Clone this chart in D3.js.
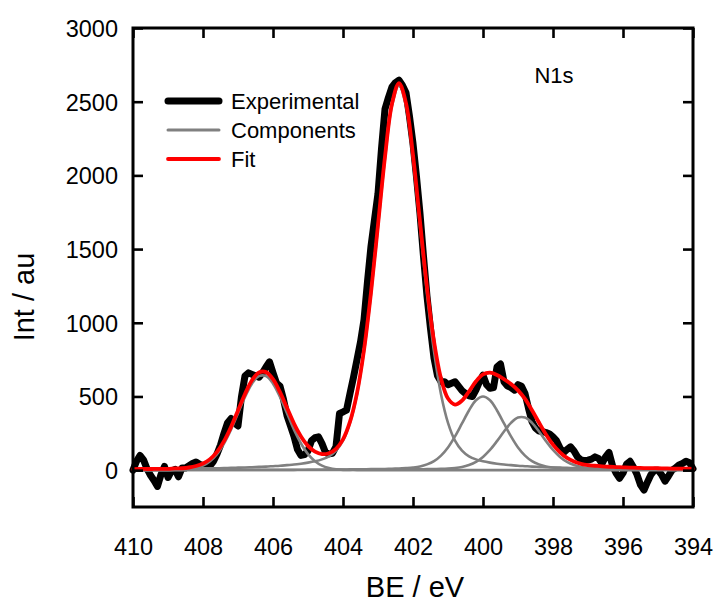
<!DOCTYPE html>
<html>
<head>
<meta charset="utf-8">
<script src="https://cdn.jsdelivr.net/npm/d3@7"></script>
<style>
  html, body { margin: 0; padding: 0; background: #fff; }
  svg { display: block; font-family: "Liberation Sans", Arial, sans-serif; }
</style>
</head>
<body>
<svg id="chart" width="715" height="603"></svg>
<script>
// N1s XPS spectrum: measured counts, fitted components and total fit.

// Measured spectrum, 0.1 eV steps from 410.0 down to 394.0 eV
const expStart = 410.0, expStep = 0.1;
const experimental = [
  0, 60, 100, 70, 10, -35, -70, -110, -30, 25,
  -50, -5, 5, -45, 15, 15, 30, 45, 55, 40,
  30, 22, 30, 60, 110, 170, 250, 320, 350, 320,
  300, 500, 640, 660, 650, 640, 630, 660, 700, 735,
  660, 590, 570, 480, 370, 300, 230, 140, 100, 105,
  130, 200, 220, 226, 180, 120, 110, 115, 160, 385,
  395, 407, 520, 630, 750, 870, 1020, 1280, 1520, 1700,
  1877, 2180, 2450, 2530, 2600, 2630, 2646, 2610, 2560, 2400,
  2216, 1990, 1740, 1450, 1180, 960, 760, 640, 600, 600,
  580, 590, 600, 570, 540, 520, 505, 500, 545, 600,
  645, 580, 555, 560, 700, 720, 600, 570, 560, 543,
  580, 570, 520, 420, 330, 285, 265, 262, 255, 245,
  225, 200, 150, 118, 140, 158, 130, 90, 70, 65,
  68, 75, 90, 80, 45, 90, 120, 30, -20, -55,
  -20, 40, 60, 20, -30, -100, -135, -80, -30, 0,
  0, -30, -75, -40, 0, 15, 35, 45, 60, 50,
  10
];

// Fitted peaks, 0.2 eV steps from 410.0 down to 394.0 eV
const fitStart = 410.0, fitStep = 0.2;
const peak406 = [
  0, 0, 0, 0, 0, 0, 1, 2, 6, 15,
  31, 61, 109, 181, 275, 386, 496, 587, 638, 638,
  587, 496, 386, 275, 181, 109, 61, 31, 15, 6,
  2, 1, 0, 0, 0, 0, 0, 0, 0, 0,
  0, 0, 0, 0, 0, 0, 0, 0, 0, 0,
  0, 0, 0, 0, 0, 0, 0, 0, 0, 0,
  0, 0, 0, 0, 0, 0, 0, 0, 0, 0,
  0, 0, 0, 0, 0, 0, 0, 0, 0, 0,
  0
];
const peak402 = [
  6, 7, 7, 7, 8, 8, 9, 9, 10, 11,
  12, 12, 13, 14, 16, 17, 18, 20, 22, 24,
  27, 30, 34, 38, 44, 51, 60, 73, 94, 133,
  201, 321, 515, 806, 1195, 1654, 2115, 2472, 2610, 2472,
  2115, 1654, 1195, 806, 515, 321, 201, 133, 94, 73,
  60, 51, 44, 38, 34, 30, 27, 24, 22, 20,
  18, 17, 16, 14, 13, 12, 12, 11, 10, 9,
  9, 8, 8, 7, 7, 7, 6, 6, 6, 5,
  5
];
const peak400 = [
  1, 1, 1, 1, 1, 1, 1, 1, 1, 1,
  1, 1, 1, 1, 1, 1, 2, 2, 2, 2,
  2, 2, 2, 2, 3, 3, 3, 3, 4, 4,
  4, 5, 5, 6, 7, 7, 8, 10, 11, 14,
  18, 25, 39, 61, 99, 154, 229, 317, 405, 474,
  500, 474, 405, 317, 229, 154, 99, 61, 39, 25,
  18, 14, 11, 10, 8, 7, 7, 6, 5, 5,
  4, 4, 4, 3, 3, 3, 3, 2, 2, 2,
  2
];
const peak399 = [
  0, 0, 0, 0, 0, 0, 1, 1, 1, 1,
  1, 1, 1, 1, 1, 1, 1, 1, 1, 1,
  1, 1, 1, 1, 1, 2, 2, 2, 2, 2,
  2, 2, 3, 3, 3, 3, 3, 4, 4, 4,
  5, 6, 7, 8, 9, 11, 15, 22, 35, 56,
  90, 137, 197, 262, 321, 357, 357, 321, 262, 197,
  137, 90, 56, 35, 22, 15, 11, 9, 8, 7,
  6, 5, 4, 4, 4, 3, 3, 3, 3, 3,
  2
];
const fitTotal = [
  7, 8, 8, 8, 9, 9, 12, 13, 18, 28,
  45, 75, 124, 197, 293, 405, 517, 610, 663, 665,
  617, 529, 423, 316, 229, 165, 126, 109, 115, 145,
  209, 329, 523, 815, 1205, 1664, 2126, 2486, 2625, 2490,
  2138, 1685, 1241, 875, 623, 486, 445, 472, 534, 603,
  650, 662, 646, 617, 584, 541, 483, 406, 323, 242,
  173, 121, 83, 59, 43, 34, 30, 26, 23, 21,
  19, 17, 16, 14, 14, 13, 12, 11, 11, 10,
  9
];

// Axis ticks
const xTicks = [410, 408, 406, 404, 402, 400, 398, 396, 394];
const yTicks = [0, 500, 1000, 1500, 2000, 2500, 3000];

const legendItems = ["Experimental", "Components", "Fit"];

const margin = { left: 133, right: 693, top: 28, bottom: 507 };
const svg = d3.select("#chart");

const x = d3.scaleLinear().domain([410, 394]).range([margin.left, margin.right]);
const y = d3.scaleLinear().domain([-250, 3000]).range([margin.bottom, margin.top]);

const expPts = experimental.map((v, i) => [expStart - i * expStep, v]);
const toPts = arr => arr.map((v, i) => [fitStart - i * fitStep, v]);

const lineLinear = d3.line().x(d => x(d[0])).y(d => y(d[1]));
const lineSmooth = d3.line().x(d => x(d[0])).y(d => y(d[1])).curve(d3.curveCatmullRom);

const plot = svg.append("g");

// measured data
plot.append("path")
  .attr("d", lineLinear(expPts))
  .attr("fill", "none")
  .attr("stroke", "#000")
  .attr("stroke-width", 7)
  .attr("stroke-linejoin", "round")
  .attr("stroke-linecap", "round");

// individual components
[peak406, peak402, peak400, peak399].forEach(arr => {
  plot.append("path")
    .attr("d", lineSmooth(toPts(arr)))
    .attr("fill", "none")
    .attr("stroke", "#808080")
    .attr("stroke-width", 2.6)
    .attr("stroke-linejoin", "round");
});

// envelope
plot.append("path")
  .attr("d", lineSmooth(toPts(fitTotal)))
  .attr("fill", "none")
  .attr("stroke", "#ff0000")
  .attr("stroke-width", 3.8)
  .attr("stroke-linejoin", "round")
  .attr("stroke-linecap", "round");

// frame with inward ticks on all sides
const tickLen = 10;
const xAxisB = d3.axisBottom(x).tickValues(xTicks).tickSize(-tickLen).tickPadding(31).tickFormat(d3.format("d"));
const xAxisT = d3.axisTop(x).tickValues(xTicks).tickSize(-tickLen).tickFormat("");
const yAxisL = d3.axisLeft(y).tickValues(yTicks).tickSize(-tickLen).tickPadding(15).tickFormat(d3.format("d"));
const yAxisR = d3.axisRight(y).tickValues(yTicks).tickSize(-tickLen).tickFormat("");

function styleAxis(g) {
  g.select(".domain").remove();
  g.selectAll(".tick line").attr("stroke", "#000").attr("stroke-width", 2.6);
  g.selectAll(".tick text").attr("fill", "#000").style("font-size", "23.5px");
}

svg.append("g").attr("transform", `translate(0,${margin.bottom})`).call(xAxisB).call(styleAxis)
  .selectAll(".tick text").attr("dy", "0.71em");
svg.append("g").attr("transform", `translate(0,${margin.top})`).call(xAxisT).call(styleAxis);
svg.append("g").attr("transform", `translate(${margin.left},0)`).call(yAxisL).call(styleAxis)
  .selectAll(".tick text").attr("dy", "0.36em");
svg.append("g").attr("transform", `translate(${margin.right},0)`).call(yAxisR).call(styleAxis);

svg.append("rect")
  .attr("x", margin.left).attr("y", margin.top)
  .attr("width", margin.right - margin.left).attr("height", margin.bottom - margin.top)
  .attr("fill", "none").attr("stroke", "#000").attr("stroke-width", 3);

// axis titles
svg.append("text")
  .attr("x", (margin.left + margin.right) / 2 + 2).attr("y", 597)
  .attr("text-anchor", "middle").style("font-size", "29px").text("BE / eV");
svg.append("text")
  .attr("transform", "translate(34,297) rotate(-90)")
  .attr("text-anchor", "middle").style("font-size", "29px").text("Int / au");

// peak label
svg.append("text")
  .attr("x", 554).attr("y", 83)
  .attr("text-anchor", "middle").style("font-size", "22px").text("N1s");

// legend
const legendStyles = [
  { color: "#000", width: 7 },
  { color: "#808080", width: 3 },
  { color: "#ff0000", width: 3.8 }
];
const legend = svg.append("g");
legendItems.forEach((name, i) => {
  const ly = 101 + i * 29;
  legend.append("line")
    .attr("x1", 168).attr("x2", 219).attr("y1", ly).attr("y2", ly)
    .attr("stroke", legendStyles[i].color)
    .attr("stroke-width", legendStyles[i].width)
    .attr("stroke-linecap", "round");
  legend.append("text")
    .attr("x", 231).attr("y", ly).attr("dy", "0.36em")
    .style("font-size", "22px").text(name);
});
</script>
</body>
</html>
